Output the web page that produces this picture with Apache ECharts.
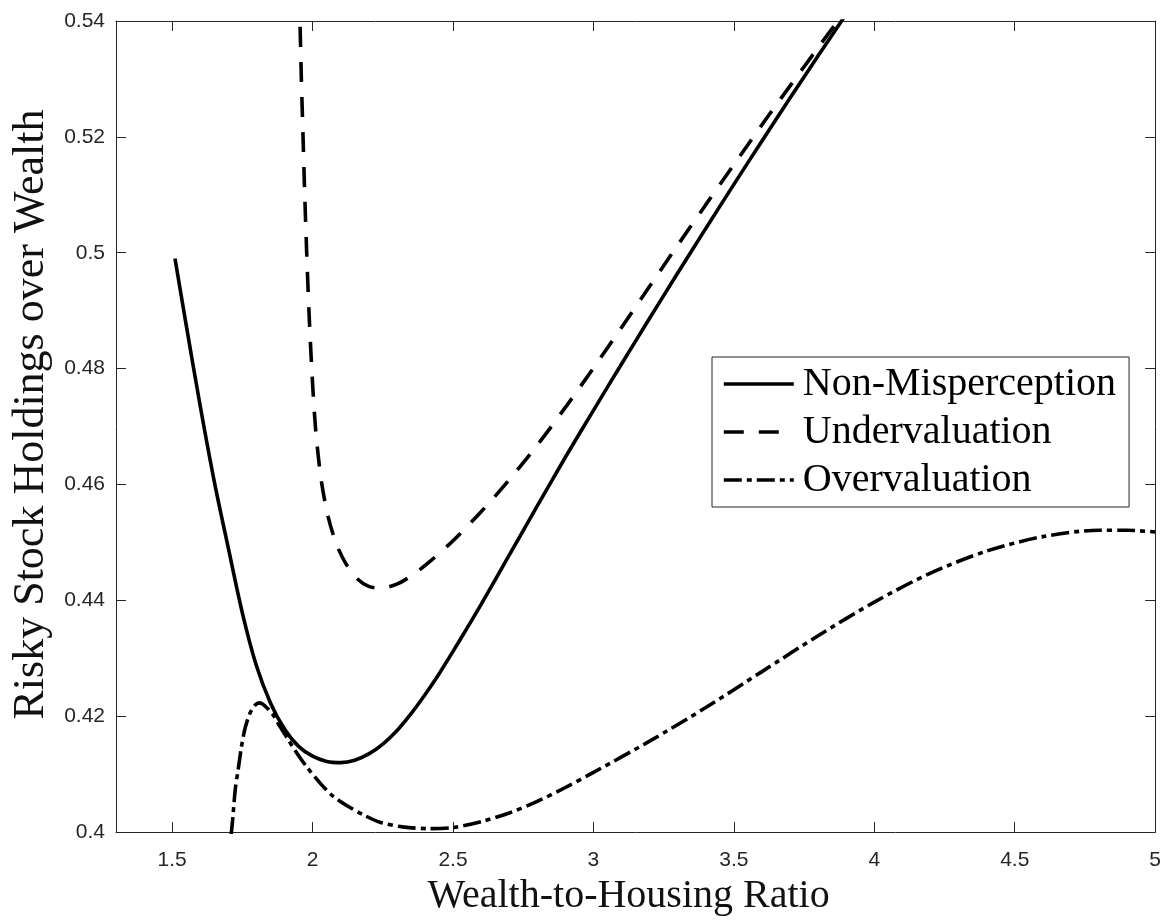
<!DOCTYPE html>
<html>
<head>
<meta charset="utf-8">
<script src="https://cdn.jsdelivr.net/npm/echarts@6/dist/echarts.min.js"></script>
<style>
html,body{margin:0;padding:0;background:#fff;}
#chart{width:1164px;height:921px;}
</style>
</head>
<body>
<div id="chart"></div>
<script>
// ---- data ----
var seriesNames = ['Non-Misperception', 'Undervaluation', 'Overvaluation'];

var nonMisX = [1.51, 1.55, 1.60, 1.65, 1.70, 1.75, 1.80, 1.85, 1.90, 1.95, 2.00, 2.05, 2.10, 2.15, 2.20, 2.25, 2.30, 2.35, 2.40, 2.45, 2.50, 2.55, 2.60, 2.70, 2.80, 2.90, 3.00, 3.10, 3.20, 3.30, 3.40, 3.50, 3.60, 3.70, 3.80, 3.90];
var nonMisY = [0.499, 0.4875, 0.4735, 0.4605, 0.4490, 0.4378, 0.4287, 0.4223, 0.4178, 0.4148, 0.4131, 0.4122, 0.4120, 0.4124, 0.4135, 0.4152, 0.4175, 0.4204, 0.4237, 0.4273, 0.4312, 0.4352, 0.4393, 0.4478, 0.4563, 0.4647, 0.4728, 0.4808, 0.4887, 0.4965, 0.5042, 0.5118, 0.5193, 0.5267, 0.5340, 0.5412];

var underX = [1.952, 1.955, 1.960, 1.966, 1.972, 1.979, 1.987, 1.997, 2.01, 2.03, 2.055, 2.085, 2.12, 2.16, 2.20, 2.24, 2.30, 2.36, 2.42, 2.50, 2.60, 2.70, 2.80, 2.90, 3.00, 3.10, 3.20, 3.30, 3.40, 3.50, 3.60, 3.70, 3.80, 3.90];
var underY = [0.545, 0.54, 0.53, 0.52, 0.51, 0.50, 0.49, 0.48, 0.47, 0.461, 0.4545, 0.4497, 0.4462, 0.4437, 0.4424, 0.4421, 0.4428, 0.4445, 0.4468, 0.4503, 0.4553, 0.4608, 0.4668, 0.4733, 0.4801, 0.4871, 0.4942, 0.5013, 0.5083, 0.5152, 0.5221, 0.5288, 0.5354, 0.542];

var overX = [1.71, 1.715, 1.725, 1.735, 1.747, 1.76, 1.777, 1.795, 1.81, 1.83, 1.86, 1.884, 1.91, 1.943, 1.98, 2.026, 2.07, 2.121, 2.18, 2.24, 2.32, 2.417, 2.5, 2.6, 2.7, 2.8, 2.9, 3.0, 3.2, 3.4, 3.6, 3.8, 4.0, 4.2, 4.4, 4.6, 4.8, 4.9, 5.0];
var overY = [0.3995, 0.402, 0.4075, 0.4108, 0.4148, 0.418, 0.4205, 0.4219, 0.4223, 0.4218, 0.4202, 0.4182, 0.4162, 0.4137, 0.4112, 0.4085, 0.4063, 0.4046, 0.403, 0.4017, 0.4009, 0.4006, 0.4008, 0.4018, 0.4033, 0.4053, 0.4077, 0.4103, 0.4157, 0.4215, 0.4277, 0.4339, 0.4397, 0.4447, 0.4485, 0.4510, 0.4521, 0.4521, 0.4518];

var xMin = 1.3, xMax = 5;
var yMin = 0.4, yMax = 0.54, yStep = 0.02;

function pairs(xs, ys) { return xs.map(function (x, i) { return [x, ys[i]]; }); }

var axisColor = '#262626';
var serif = '"Liberation Serif", "DejaVu Serif", serif';
var sans = '"Liberation Sans", Arial, sans-serif';

var chart = echarts.init(document.getElementById('chart'), null, {renderer: 'canvas'});

function xAxisCfg(pos, withLabels) {
  return {
    type: 'value', position: pos, min: xMin, max: xMax, splitNumber: 7,
    axisLine: {show: true, onZero: false, lineStyle: {color: axisColor, width: 1}},
    axisTick: {show: true, inside: true, length: 10, lineStyle: {color: axisColor}},
    splitLine: {show: false},
    axisLabel: {show: withLabels, showMinLabel: false, color: axisColor, fontFamily: sans, fontSize: 21, margin: 18},
    name: withLabels ? 'Wealth-to-Housing Ratio' : '',
    nameLocation: 'middle', nameGap: 39,
    nameTextStyle: {fontFamily: serif, fontSize: 40, color: '#111', padding: [0, 14, 0, 0]}
  };
}
function yAxisCfg(pos, withLabels) {
  return {
    type: 'value', position: pos, min: yMin, max: yMax, interval: yStep,
    axisLine: {show: true, onZero: false, lineStyle: {color: axisColor, width: 1}},
    axisTick: {show: true, inside: true, length: 10, lineStyle: {color: axisColor}},
    splitLine: {show: false},
    axisLabel: {show: withLabels, color: axisColor, fontFamily: sans, fontSize: 21, margin: 11},
    name: withLabels ? 'Risky Stock Holdings over Wealth' : '',
    nameLocation: 'middle', nameGap: 62, nameRotate: 90,
    nameTextStyle: {fontFamily: serif, fontSize: 44, color: '#111', padding: [0, 0, 0, 24]}
  };
}

var lineTypes = ['solid', [20, 15], [18, 5, 5, 5]];
var dataSets = [pairs(nonMisX, nonMisY), pairs(underX, underY), pairs(overX, overY)];

var series = seriesNames.map(function (n, i) {
  return {
    name: n, type: 'line', xAxisIndex: 0, yAxisIndex: 0,
    data: dataSets[i], smooth: 0.3, symbol: 'none', showSymbol: false,
    clip: true,
    lineStyle: {color: '#000', width: 3.6, type: lineTypes[i], cap: 'butt'},
    itemStyle: {color: '#000'},
    emphasis: {disabled: true}
  };
});

chart.setOption({
  animation: false,
  backgroundColor: '#fff',
  grid: {left: 116, right: 8, top: 21, bottom: 81, containLabel: false},
  xAxis: [xAxisCfg('bottom', true), xAxisCfg('top', false)],
  yAxis: [yAxisCfg('left', true), yAxisCfg('right', false)],
  legend: {
    orient: 'vertical', left: 712, top: 357,
    data: seriesNames,
    backgroundColor: '#fff', borderColor: '#262626', borderWidth: 1, borderRadius: 0,
    padding: [7, 13, 7, 10],
    itemWidth: 70, itemHeight: 14, itemGap: 8,
    itemStyle: {opacity: 0, color: 'rgba(0,0,0,0)', borderWidth: 0},
    lineStyle: {width: 3.6, type: 'inherit', opacity: 1},
    textStyle: {fontFamily: serif, fontSize: 40, color: '#000', padding: [0, 0, 0, 4]},
    selectedMode: false
  },
  series: series
});
</script>
</body>
</html>
